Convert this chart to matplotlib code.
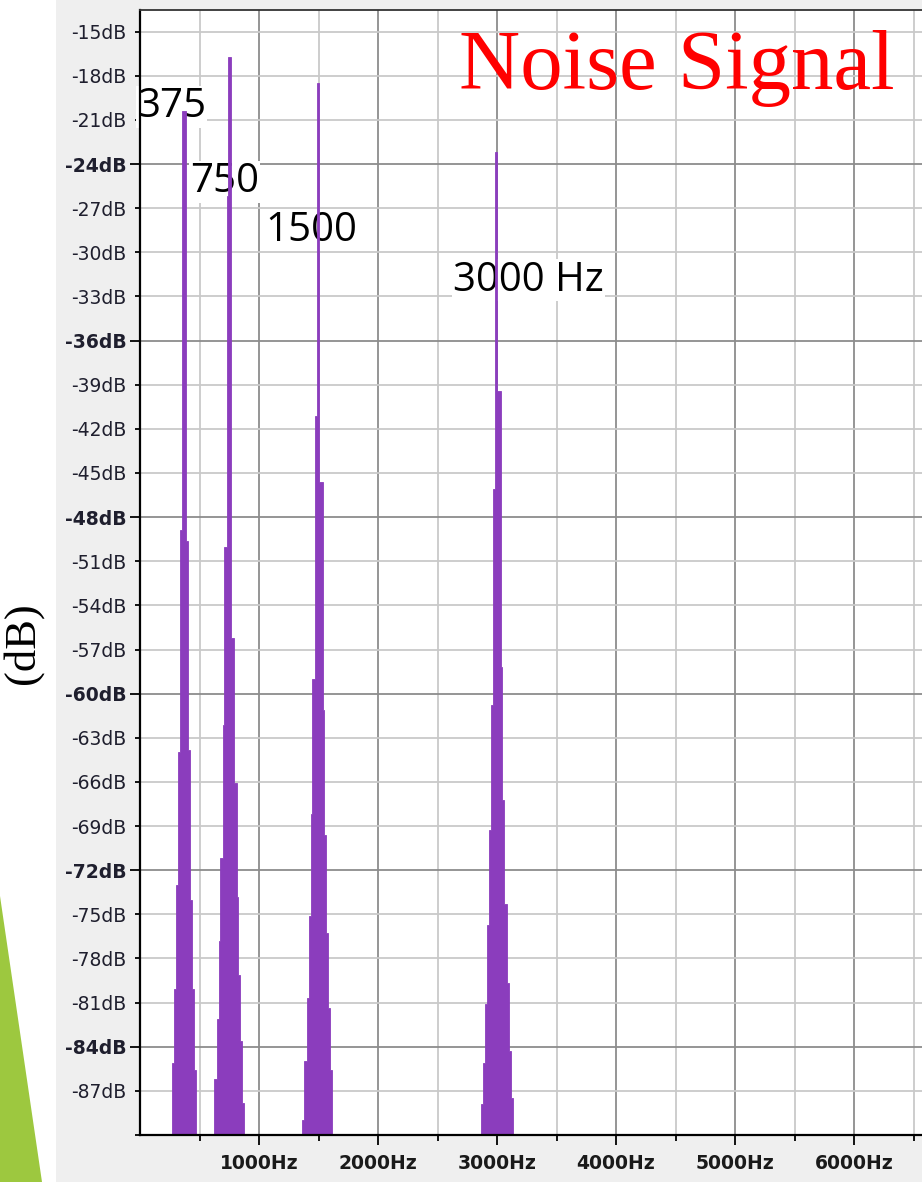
import matplotlib.pyplot as plt
import numpy as np
from matplotlib.patches import Polygon, Rectangle

# spectrum bins: bin edges (Hz) and level (dB) for each tone
edges_375 = [271, 286, 303, 322, 339, 353, 387, 403, 420, 440, 454, 471]
db_375 = [-85.1, -80.1, -73.0, -64.0, -48.9, -20.4, -49.6, -63.8, -74.0, -80.1, -85.6]

edges_750 = [624, 645, 661, 675, 695, 706, 729, 739, 765, 792, 813, 826, 840, 857, 876]
db_750 = [-86.2, -82.1, -76.8, -71.2, -62.1, -50.0, -26.2, -16.7, -56.2, -66.1, -73.8, -79.1, -83.6, -87.8]

edges_1500 = [1364, 1381, 1401, 1420, 1434, 1448, 1468, 1485, 1504, 1535, 1546, 1563, 1582, 1597, 1616]
db_1500 = [-89.0, -85.0, -80.7, -75.1, -68.2, -59.0, -41.1, -18.5, -45.6, -61.1, -69.6, -76.3, -81.4, -85.6]

edges_3000 = [2865, 2880, 2899, 2913, 2933, 2947, 2964, 2980, 3002, 3031, 3044, 3061, 3081, 3101, 3115, 3132]
db_3000 = [-87.9, -85.1, -81.1, -75.7, -69.3, -60.8, -46.1, -23.2, -39.4, -58.2, -67.2, -74.3, -79.7, -84.3, -87.5]

peak_labels = ['375', '750', '1500', '3000 Hz']
x_ticks = [1000, 2000, 3000, 4000, 5000, 6000]
y_ticks = list(range(-90, -14, 3))
bold_db = [-24, -36, -48, -60, -72, -84]

purple = '#8b3dbd'

fig = plt.figure(figsize=(9.22, 11.82), dpi=100)
fig.patch.set_facecolor('white')

# slide decoration: grey screenshot panel and green triangle
fig.patches.append(Rectangle((56 / 922, 0), 1, 1, transform=fig.transFigure,
                             facecolor='#efefef', edgecolor='none', zorder=-5))
fig.patches.append(Polygon([(0, 1 - 896 / 1182), (42 / 922, 0), (0, 0)], closed=True,
                           transform=fig.transFigure, facecolor='#9dc83f',
                           edgecolor='none', zorder=-5))

ax = fig.add_axes([140 / 922, 47 / 1182, 782 / 922, 1125 / 1182])
ax.set_zorder(1)
ax.set_facecolor('white')
ax.set_axisbelow(True)

for edges, db in [(edges_375, db_375), (edges_750, db_750),
                  (edges_1500, db_1500), (edges_3000, db_3000)]:
    ax.stairs(db, edges, baseline=-100, fill=True, facecolor=purple,
              edgecolor=purple, linewidth=0.6, zorder=2)

ax.set_xlim(0, 6571)
ax.set_ylim(-90, -13.53)

# x axis
ax.set_xticks(x_ticks)
ax.set_xticklabels([f'{v}Hz' for v in x_ticks], fontweight='bold')
ax.set_xticks(np.arange(500, 6600, 1000), minor=True)
ax.tick_params(axis='x', which='major', length=7, width=1.3, pad=7,
               labelsize=13.5, labelcolor='#1a1a1a')
ax.tick_params(axis='x', which='minor', length=4, width=1.3)
ax.grid(which='major', axis='x', color='#8c8c8c', lw=1.3)
ax.grid(which='minor', axis='x', color='#c9c9c9', lw=1.3)

# y axis, every 3 dB, with bold majors every 12 dB
ax.set_yticks(y_ticks)
ax.set_yticklabels([f'{v}dB' if v > -90 else '' for v in y_ticks])
ax.tick_params(axis='y', length=3.5, width=1.3, pad=6, labelsize=13.5,
               labelcolor='#1f1f2e')
ax.grid(axis='y', color='#c9c9c9', lw=1.3)
for tick in ax.yaxis.get_major_ticks():
    v = round(tick.get_loc())
    if v in bold_db:
        tick.label1.set_fontweight('bold')
        tick.gridline.set_color('#8c8c8c')
        tick.tick1line.set_markersize(7)

for side in ['left', 'bottom']:
    ax.spines[side].set_linewidth(1.6)
    ax.spines[side].set_color('black')
ax.spines['top'].set_linewidth(1.3)
ax.spines['top'].set_color('#333333')
ax.spines['right'].set_visible(False)

# tone labels
label_x = [-25, 420, 1050, 2630]
label_y = [-20.8, -25.9, -29.2, -32.6]
for txt, lx, ly in zip(peak_labels, label_x, label_y):
    ax.text(lx, ly, txt, fontsize=29, family='Open Sans', ha='left', va='baseline',
            color='black', zorder=1.5, clip_on=False,
            bbox=dict(facecolor='white', edgecolor='none', pad=0.5))

ax.text(2681, -18.88, 'Noise Signal', fontsize=61, family='Liberation Serif',
        color='red', ha='left', va='baseline', zorder=3)

fig.text(23 / 922, 1 - 643 / 1182, '(dB)', rotation=90, fontsize=32,
         family='Liberation Serif', ha='center', va='center')

fig.savefig('out.png', dpi=100)
